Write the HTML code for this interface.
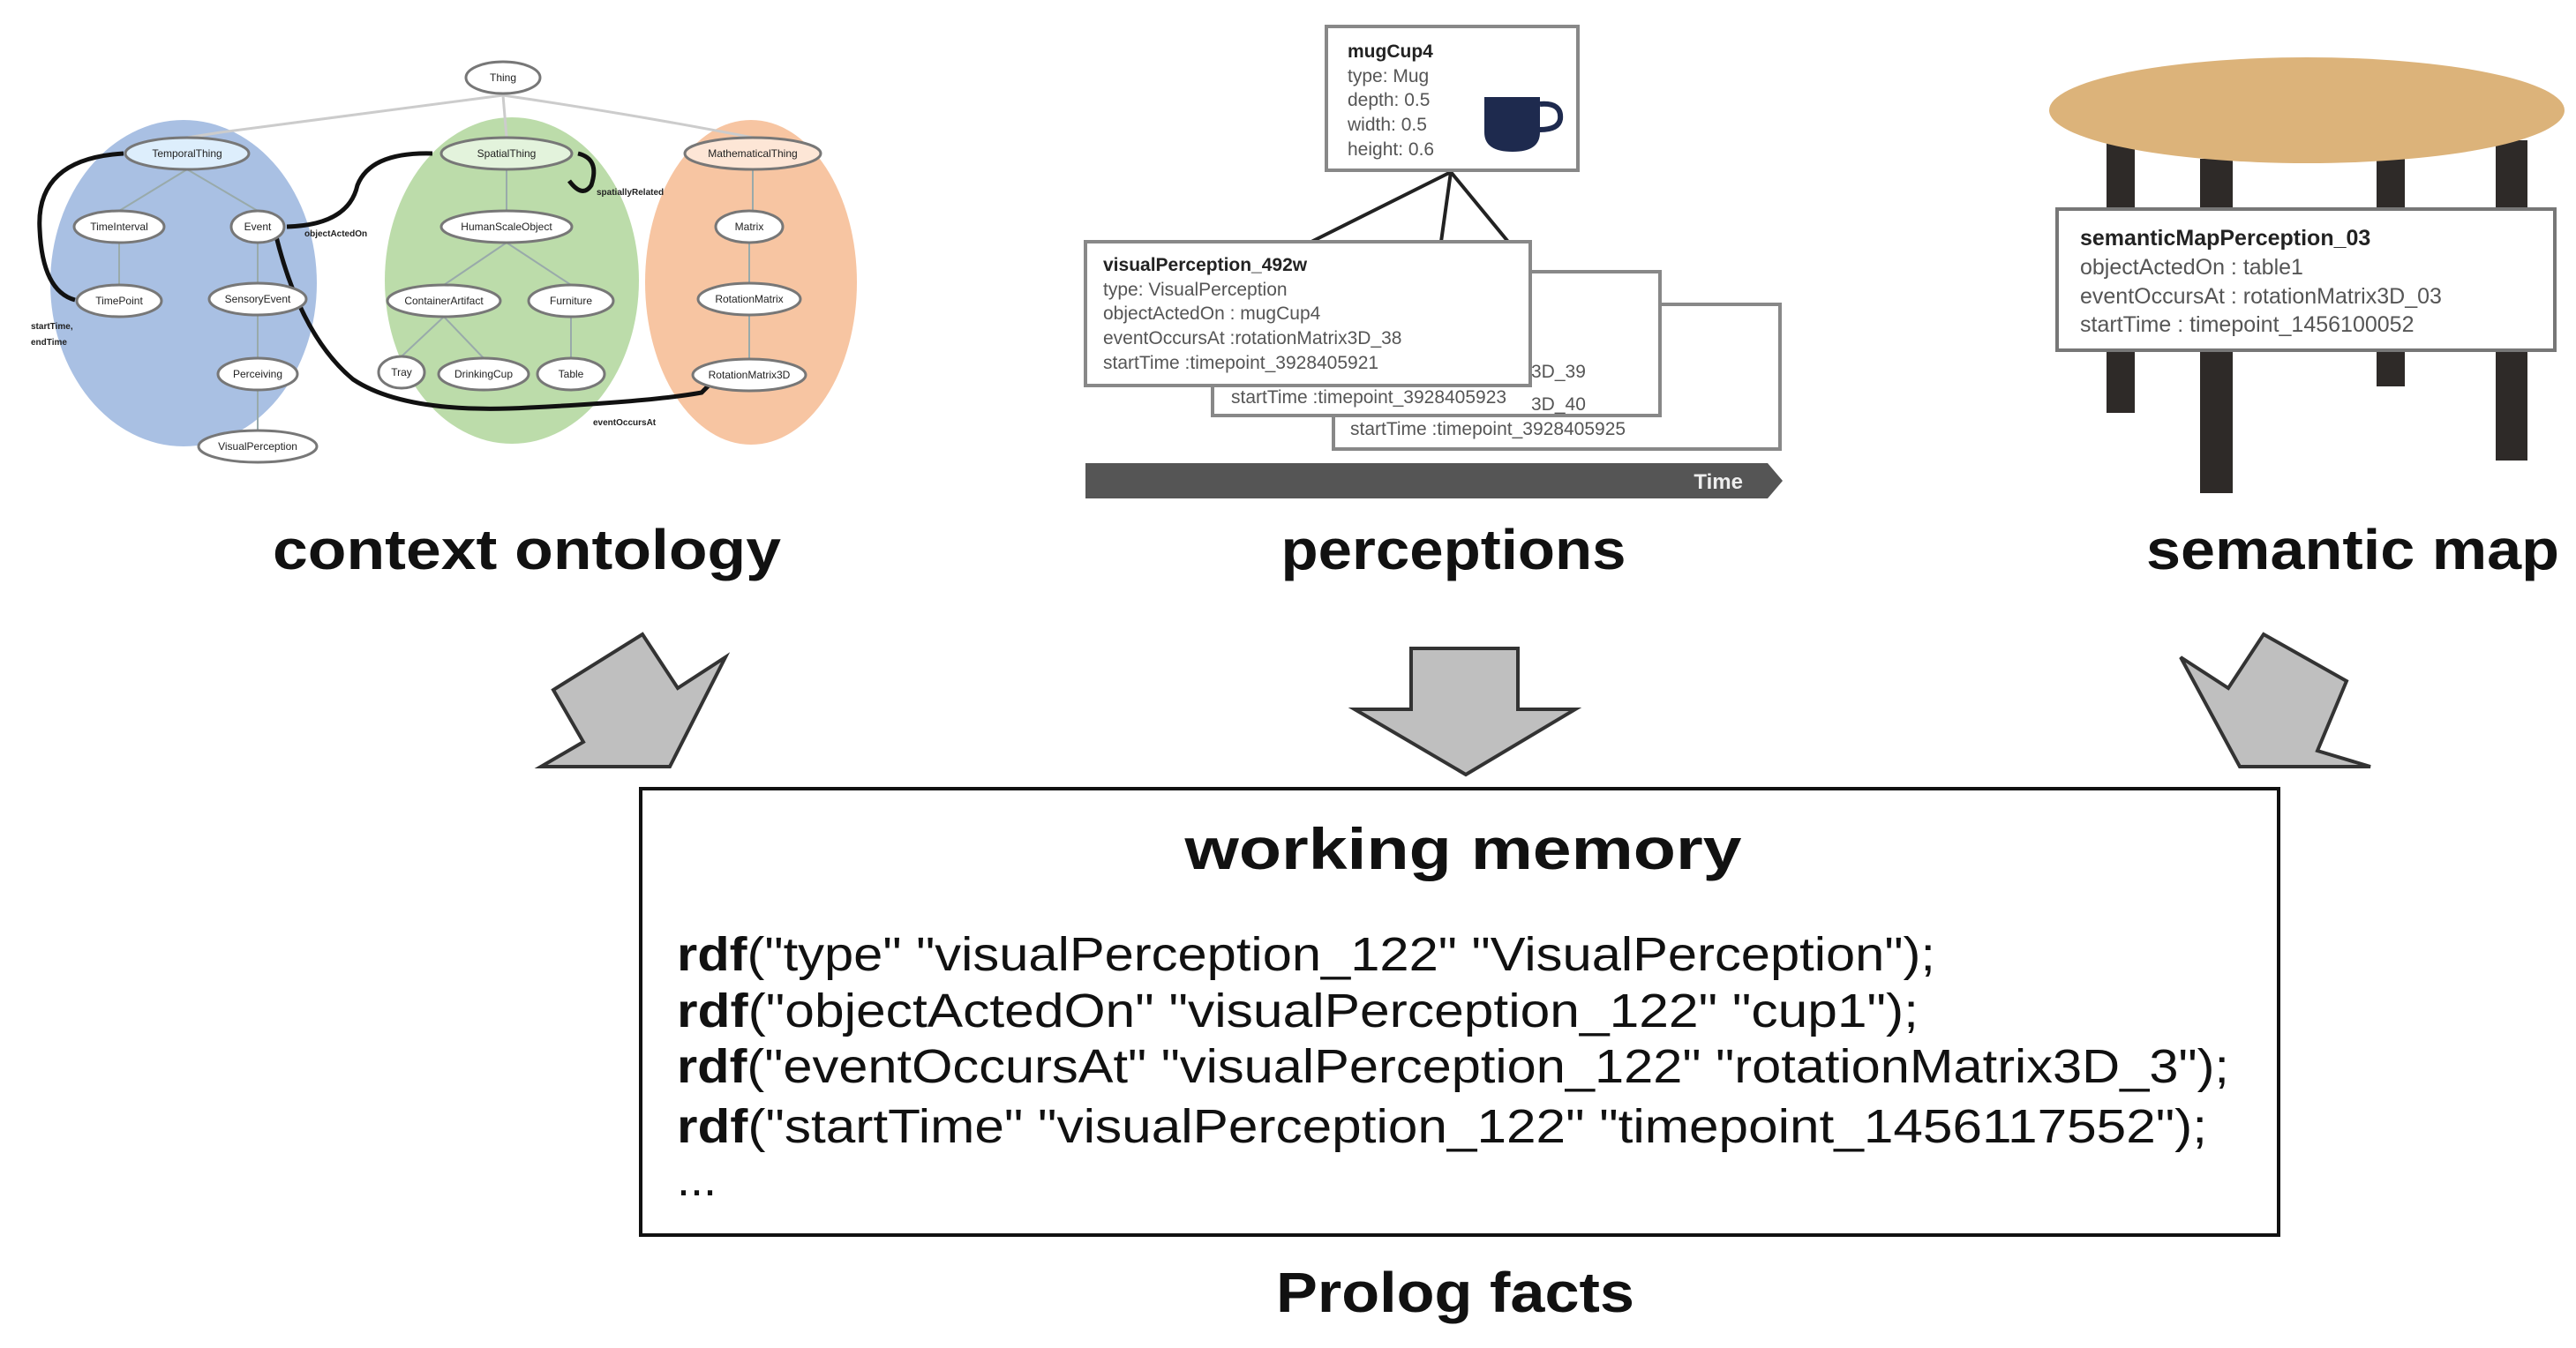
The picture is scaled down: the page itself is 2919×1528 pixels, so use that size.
<!DOCTYPE html>
<html><head><meta charset="utf-8"><style>html,body{margin:0;padding:0;background:#fff}svg{display:block}</style></head>
<body>
<svg width="2919" height="1528" viewBox="0 0 2919 1528" xmlns="http://www.w3.org/2000/svg" font-family="Liberation Sans, sans-serif">
<!-- ONTOLOGY -->
<ellipse cx="208" cy="321" rx="151" ry="185" fill="#a9c0e3"/>
<ellipse cx="580" cy="318" rx="144" ry="185" fill="#bcdcaa"/>
<ellipse cx="851" cy="320" rx="120" ry="184" fill="#f7c5a2"/>
<g stroke="#ccc" stroke-width="3" fill="none">
<path d="M570 108 Q400 130 250 150 L212 156"/><path d="M570 108 L574 156"/><path d="M570 108 Q720 130 853 156"/>
</g>
<g stroke="#9aa" stroke-width="2" fill="none">
<path d="M212 192 L135 239"/><path d="M212 192 L292 239"/><path d="M135 275 V323"/><path d="M292 275 V321"/><path d="M292 357 V406"/><path d="M292 442 V488"/>
<path d="M574 192 V239"/><path d="M574 275 L503 323"/><path d="M574 275 L647 323"/><path d="M503 359 L455 404"/><path d="M503 359 L548 406"/><path d="M647 359 V406"/>
<path d="M853 192 V239"/><path d="M849 275 V321"/><path d="M849 357 V407"/>
</g>
<g stroke="#111" stroke-width="5" fill="none">
<path d="M140 174 Q40 180 45 260 Q48 330 85 340"/>
<path d="M325 257 Q395 255 405 210 Q420 172 490 174"/>
<path d="M655 174 Q680 180 670 210 Q660 225 645 205"/>
<path d="M312 264 Q340 380 400 430 Q460 470 600 462 Q740 455 795 445 L810 430"/>
</g>
<g font-size="12" fill="#222" text-anchor="middle">
<g fill="#fff" stroke="#777" stroke-width="3">
<ellipse cx="570" cy="88" rx="42" ry="18"/>
<ellipse cx="212" cy="174" rx="70" ry="18" fill="#ddeefc"/>
<ellipse cx="574" cy="174" rx="74" ry="18" fill="#e3f3dc"/>
<ellipse cx="853" cy="174" rx="77" ry="18" fill="#fde6d6"/>
<ellipse cx="135" cy="257" rx="51" ry="18"/><ellipse cx="292" cy="257" rx="30" ry="18"/>
<ellipse cx="574" cy="257" rx="74" ry="18"/><ellipse cx="849" cy="257" rx="38" ry="18"/>
<ellipse cx="135" cy="341" rx="48" ry="18"/><ellipse cx="292" cy="339" rx="55" ry="18"/>
<ellipse cx="503" cy="341" rx="64" ry="18"/><ellipse cx="647" cy="341" rx="48" ry="18"/>
<ellipse cx="849" cy="339" rx="58" ry="18"/>
<ellipse cx="292" cy="424" rx="45" ry="18"/><ellipse cx="455" cy="422" rx="26" ry="18"/>
<ellipse cx="548" cy="424" rx="51" ry="18"/><ellipse cx="647" cy="424" rx="38" ry="18"/>
<ellipse cx="849" cy="425" rx="64" ry="18"/><ellipse cx="292" cy="506" rx="67" ry="18"/>
</g>
<text x="570" y="92">Thing</text><text x="212" y="178">TemporalThing</text><text x="574" y="178">SpatialThing</text><text x="853" y="178">MathematicalThing</text>
<text x="135" y="261">TimeInterval</text><text x="292" y="261">Event</text><text x="574" y="261">HumanScaleObject</text><text x="849" y="261">Matrix</text>
<text x="135" y="345">TimePoint</text><text x="292" y="343">SensoryEvent</text><text x="503" y="345">ContainerArtifact</text><text x="647" y="345">Furniture</text><text x="849" y="343">RotationMatrix</text>
<text x="292" y="428">Perceiving</text><text x="455" y="426">Tray</text><text x="548" y="428">DrinkingCup</text><text x="647" y="428">Table</text><text x="849" y="429">RotationMatrix3D</text><text x="292" y="510">VisualPerception</text>
</g>
<g font-size="10" font-weight="bold" fill="#222">
<text x="345" y="268">objectActedOn</text><text x="676" y="221">spatiallyRelated</text><text x="672" y="482">eventOccursAt</text><text x="35" y="373">startTime,</text><text x="35" y="391">endTime</text>
</g>
<!-- PERCEPTIONS -->
<g stroke="#222" stroke-width="4"><line x1="1644" y1="195" x2="1486" y2="274"/><line x1="1644" y1="195" x2="1633" y2="274"/><line x1="1644" y1="195" x2="1709" y2="274"/></g>
<rect x="1503" y="30" width="285" height="163" fill="#fff" stroke="#888" stroke-width="4"/>
<g font-size="21" fill="#555"><text x="1527" y="65" font-weight="bold" fill="#222">mugCup4</text><text x="1527" y="93">type: Mug</text><text x="1527" y="120">depth: 0.5</text><text x="1527" y="148">width: 0.5</text><text x="1527" y="176">height: 0.6</text></g>
<path d="M1682 110 H1745 V150 Q1745 172 1714 172 Q1682 172 1682 150 Z" fill="#1e2a4e"/>
<path d="M1745 118 Q1770 116 1768 135 Q1766 147 1745 147" fill="none" stroke="#1e2a4e" stroke-width="6"/>
<rect x="1511" y="345" width="506" height="164" fill="#fff" stroke="#888" stroke-width="4"/>
<rect x="1374" y="308" width="507" height="163" fill="#fff" stroke="#888" stroke-width="4"/>
<rect x="1230" y="274" width="504" height="163" fill="#fff" stroke="#888" stroke-width="4"/>
<g font-size="21" fill="#555">
<text x="1735" y="465">3D_40</text><text x="1530" y="493">startTime :timepoint_3928405925</text>
<text x="1735" y="428">3D_39</text><text x="1395" y="457">startTime :timepoint_3928405923</text>
<text x="1250" y="307" font-weight="bold" fill="#222">visualPerception_492w</text><text x="1250" y="335">type: VisualPerception</text><text x="1250" y="362">objectActedOn : mugCup4</text><text x="1250" y="390">eventOccursAt :rotationMatrix3D_38</text><text x="1250" y="418">startTime :timepoint_3928405921</text>
</g>
<path d="M1230 525 H2003 L2020 545 L2003 565 H1230 Z" fill="#555"/>
<text x="1975" y="554" font-size="24" font-weight="bold" fill="#eee" text-anchor="end">Time</text>
<!-- TABLE -->
<rect x="2387" y="160" width="32" height="308" fill="#2e2a28"/>
<rect x="2828" y="159" width="36" height="363" fill="#2e2a28"/>
<rect x="2493" y="180" width="37" height="379" fill="#2e2a28"/>
<rect x="2693" y="180" width="32" height="258" fill="#2e2a28"/>
<ellipse cx="2614" cy="125" rx="292" ry="60" fill="#dcb37a"/>
<rect x="2331" y="237" width="564" height="160" fill="#fff" stroke="#777" stroke-width="4"/>
<g font-size="25" fill="#555"><text x="2357" y="278" font-weight="bold" fill="#222">semanticMapPerception_03</text><text x="2357" y="311">objectActedOn : table1</text><text x="2357" y="344">eventOccursAt : rotationMatrix3D_03</text><text x="2357" y="376">startTime : timepoint_1456100052</text></g>
<!-- LABELS -->
<g font-size="64" font-weight="bold" fill="#111" text-anchor="middle">
<text x="597" y="645" textLength="576" lengthAdjust="spacingAndGlyphs">context ontology</text>
<text x="1647" y="645" textLength="391" lengthAdjust="spacingAndGlyphs">perceptions</text>
<text x="2666" y="645" textLength="468" lengthAdjust="spacingAndGlyphs">semantic map</text>
</g>
<!-- ARROWS -->
<g fill="#bfbfbf" stroke="#333" stroke-width="4" stroke-linejoin="miter">
<polygon points="728,719 768,780 822,745 759,869 613,869 661,841 627,782"/>
<polygon points="1599,735 1720,735 1720,804 1785,804 1661,878 1535,804 1599,804"/>
<polygon points="2565,719 2659,772 2626,851 2686,869 2538,869 2471,745 2525,780"/>
</g>
<!-- WORKING MEMORY -->
<rect x="726" y="894" width="1856" height="506" fill="#fff" stroke="#111" stroke-width="4"/>
<text x="1658" y="985" font-size="66" font-weight="bold" text-anchor="middle" textLength="631" lengthAdjust="spacingAndGlyphs" fill="#111">working memory</text>
<g font-size="54" fill="#111">
<text x="767" y="1100" textLength="1426" lengthAdjust="spacingAndGlyphs"><tspan font-weight="bold">rdf</tspan>("type"  "visualPerception_122"  "VisualPerception");</text>
<text x="767" y="1164" textLength="1407" lengthAdjust="spacingAndGlyphs"><tspan font-weight="bold">rdf</tspan>("objectActedOn" "visualPerception_122"  "cup1");</text>
<text x="767" y="1227" textLength="1759" lengthAdjust="spacingAndGlyphs"><tspan font-weight="bold">rdf</tspan>("eventOccursAt"  "visualPerception_122"  "rotationMatrix3D_3");</text>
<text x="767" y="1295" textLength="1734" lengthAdjust="spacingAndGlyphs"><tspan font-weight="bold">rdf</tspan>("startTime"  "visualPerception_122"  "timepoint_1456117552");</text>
<text x="767" y="1355">...</text>
</g>
<text x="1649" y="1487" font-size="64" font-weight="bold" text-anchor="middle" textLength="406" lengthAdjust="spacingAndGlyphs" fill="#111">Prolog facts</text>
</svg>
</body></html>
